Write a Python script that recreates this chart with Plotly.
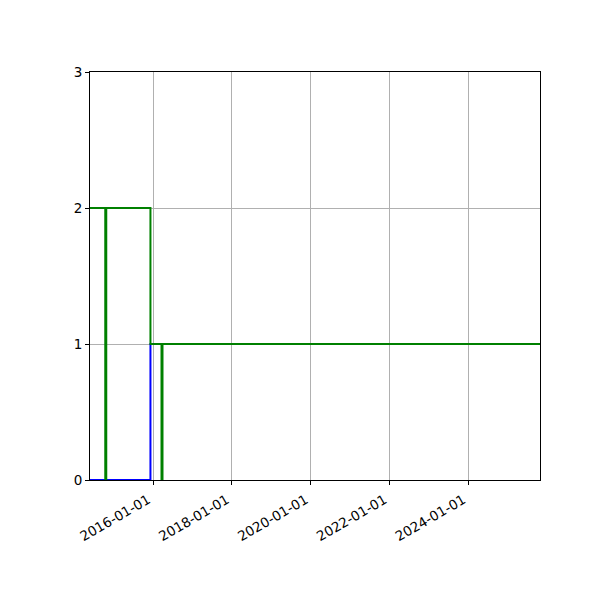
import plotly.graph_objects as go

# step series (value holds until next date)
step_dates = ["2014-05-27", "2015-12-08", "2025-10-25"]
blue_values = [0, 1, 1]
green_values = [2, 1, 1]

# event markers drawn as vertical bars from 0
event_dates = ["2014-10-20", "2016-03-24"]
event_heights = [2, 1]

x_range = ["2014-05-27", "2025-10-25"]
y_ticks = [0, 1, 2, 3]

fig = go.Figure()

fig.add_trace(go.Scatter(x=step_dates, y=blue_values, mode="lines",
                         line=dict(color="blue", width=2, shape="hv")))
fig.add_trace(go.Scatter(x=step_dates, y=green_values, mode="lines",
                         line=dict(color="green", width=2, shape="hv")))

ex, ey = [], []
for d, h in zip(event_dates, event_heights):
    ex += [d, d, None]
    ey += [0, h, None]
fig.add_trace(go.Scatter(x=ex, y=ey, mode="lines",
                         line=dict(color="green", width=3)))

axis_style = dict(showline=True, linecolor="black", linewidth=1, mirror=True,
                  ticks="outside", ticklen=4, tickcolor="black",
                  showgrid=True, gridcolor="#b0b0b0", gridwidth=1,
                  zeroline=False, layer="below traces",
                  tickfont=dict(family="DejaVu Sans", size=13.5, color="black"))

fig.update_xaxes(range=x_range, type="date", tick0="2016-01-01", dtick="M24",
                 tickformat="%Y-%m-%d", tickangle=-30, ticklabelshift=-5,
                 ticklabelstandoff=2, **axis_style)
fig.update_yaxes(range=[0, 3], tickvals=y_ticks, **axis_style)

# page body adds 8px, margins account for it
fig.update_layout(width=600, height=600, showlegend=False,
                  plot_bgcolor="white", paper_bgcolor="white",
                  margin=dict(l=82, r=68, t=64, b=128))

fig.write_html("out.html")
